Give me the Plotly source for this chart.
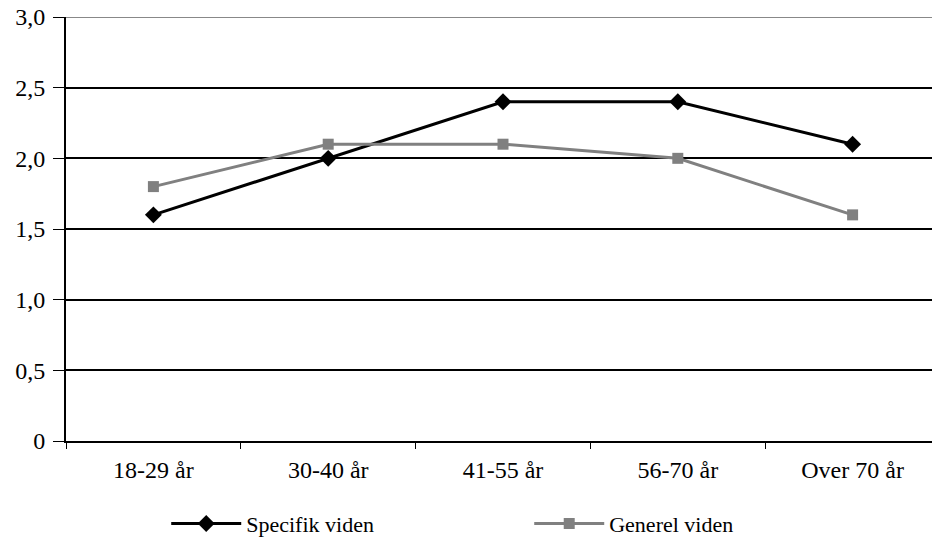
import plotly.graph_objects as go

categories = ["18-29 år", "30-40 år", "41-55 år", "56-70 år", "Over 70 år"]
specifik = [1.6, 2.0, 2.4, 2.4, 2.1]
generel = [1.8, 2.1, 2.1, 2.0, 1.6]
y_tickvals = [0, 0.5, 1.0, 1.5, 2.0, 2.5, 3.0]
y_ticktext = ["0", "0,5", "1,0", "1,5", "2,0", "2,5", "3,0"]

FAM = "Liberation Serif, Times New Roman, DejaVu Serif, serif"
font = dict(family=FAM, size=24, color="black")
legfont = dict(family=FAM, size=22, color="black")

fig = go.Figure()
fig.add_trace(go.Scatter(
    x=categories, y=specifik, name="Specifik viden", mode="lines+markers",
    line=dict(color="black", width=3),
    marker=dict(symbol="diamond", size=13, color="black"),
))
fig.add_trace(go.Scatter(
    x=categories, y=generel, name="Generel viden", mode="lines+markers",
    line=dict(color="#808080", width=3),
    marker=dict(symbol="square", size=11, color="#808080"),
))

fig.add_shape(type="line", xref="paper", yref="y", x0=0, x1=1, y0=3.0, y1=3.0,
              line=dict(color="#888888", width=2), layer="above")

fig.update_layout(
    width=940, height=539,
    margin=dict(l=66, r=0, t=17, b=98, autoexpand=False),
    plot_bgcolor="white", paper_bgcolor="white",
    font=font,
    showlegend=True,
    legend=dict(orientation="h", x=0.53, xanchor="center", y=-0.195, yanchor="middle",
                font=legfont, entrywidth=278, entrywidthmode="pixels", itemwidth=70),
    xaxis=dict(type="category", showline=True, linecolor="black", linewidth=2,
               ticks="outside", tickson="boundaries", ticklen=6, tickcolor="black",
               showgrid=False, range=[-0.5, 4.5], tickfont=font,
               ticklabelstandoff=6),
    yaxis=dict(range=[0, 3.0], tickvals=y_tickvals, ticktext=y_ticktext,
               showline=True, linecolor="black", linewidth=2,
               ticks="outside", ticklen=11, tickcolor="black",
               showgrid=True, gridcolor="black", gridwidth=1.5,
               zeroline=False, tickfont=font, ticklabelstandoff=3),
)

fig.write_html("out.html", config={"displayModeBar": False},
               post_script="document.body.style.margin='0';document.body.style.padding='0';")
